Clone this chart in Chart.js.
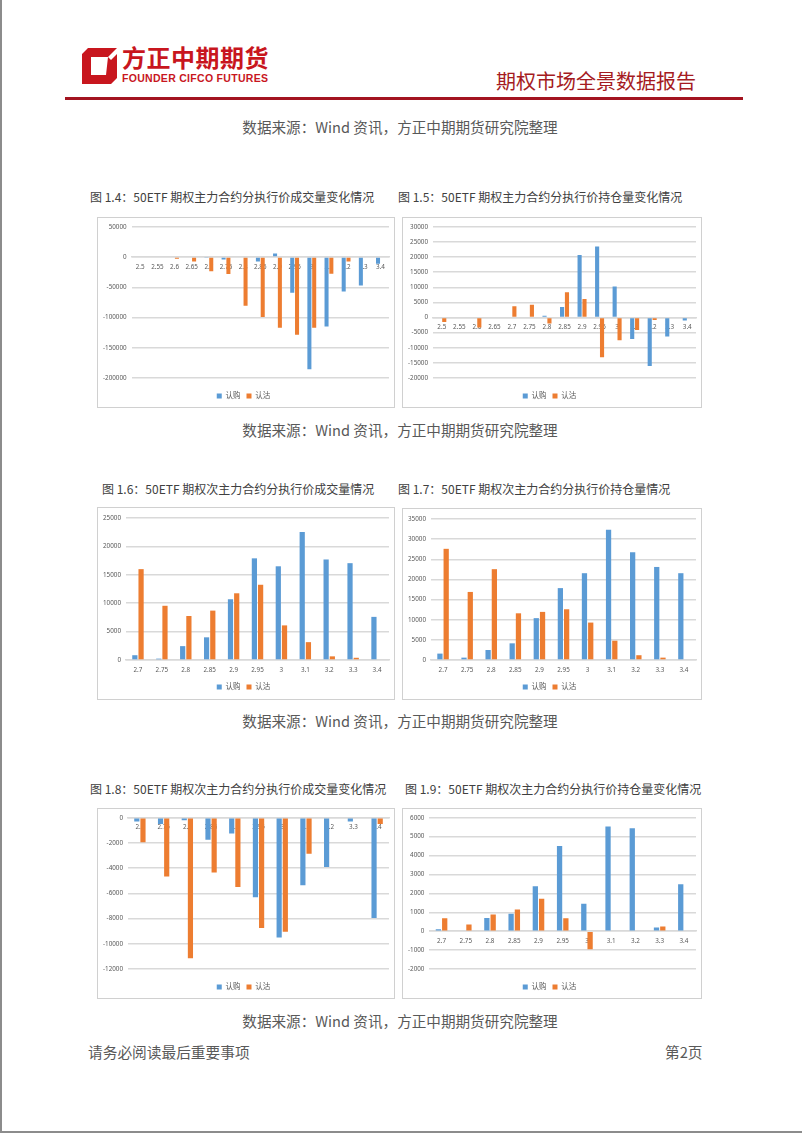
<!DOCTYPE html>
<html>
<head>
<meta charset="utf-8">
<script src="https://cdn.jsdelivr.net/npm/chart.js@4.4.0/dist/chart.umd.min.js"></script>
<style>
  body { margin: 0; background: #fff; }
  .page { position: relative; width: 802px; height: 1133px; overflow: hidden; background: #fff;
          font-family: "Noto Sans CJK SC", "Noto Sans", sans-serif; }
  .edge-l { position: absolute; left: 0; top: 0; width: 2px; height: 1133px; background: #8c8c8c; }
  .edge-b { position: absolute; left: 0; top: 1131px; width: 802px; height: 2px; background: #8c8c8c; }
  .logo { position: absolute; left: 82px; top: 48px; }
  .brand { position: absolute; left: 122px; top: 45px; font-size: 24px; font-weight: 700; color: #c8161e; line-height: 1; letter-spacing: 0.5px; }
  .brand-en { position: absolute; left: 122px; top: 73px; font-family: "Liberation Sans", Arial, sans-serif; font-size: 10.5px; font-weight: 700; color: #c8161e; line-height: 1; letter-spacing: 0.3px; }
  .report { position: absolute; right: 106px; top: 69px; font-size: 20px; color: #a51b22; line-height: 1.2; }
  .redline { position: absolute; left: 65px; top: 97px; width: 678px; height: 3px; background: #a31420; }
  .src { position: absolute; left: 0; width: 800px; text-align: center; font-size: 14.6px; color: #595959; line-height: 18px; }
  .ctitle { position: absolute; font-size: 12px; color: #404040; line-height: 14px; white-space: nowrap; }
  .box { position: absolute; border: 1px solid #d0d0d0; box-sizing: border-box; }
  .foot { position: absolute; top: 1043px; font-size: 14.7px; color: #595959; line-height: 18px; }
</style>
</head>
<body>
<div class="page">
  <div class="edge-l"></div>
  <div class="edge-b"></div>

  <svg class="logo" width="35" height="36" viewBox="0 0 35 36">
    <path d="M0 6 L6 0 L35 0 L35 30 L29 36 L0 36 Z M9 9 L9 27 L24 27 L26 9 Z" fill="#c8161e" fill-rule="evenodd"/>
    <path d="M26 9 L35 0 L35 6 L29 12 Z" fill="#fff"/>
  </svg>
  <div class="brand">方正中期期货</div>
  <div class="brand-en">FOUNDER CIFCO FUTURES</div>
  <div class="report">期权市场全景数据报告</div>
  <div class="redline"></div>

  <div class="src" style="top:118px">数据来源：Wind 资讯，方正中期期货研究院整理</div>

  <div class="ctitle" style="left:90px;top:190px">图 1.4：50ETF 期权主力合约分执行价成交量变化情况</div>
  <div class="ctitle" style="left:398px;top:190px">图 1.5：50ETF 期权主力合约分执行价持仓量变化情况</div>
  <div class="box" style="left:97px;top:217px;width:298px;height:191px"><canvas id="c1"></canvas></div>
  <div class="box" style="left:402px;top:217px;width:300px;height:191px"><canvas id="c2"></canvas></div>

  <div class="src" style="top:421px">数据来源：Wind 资讯，方正中期期货研究院整理</div>

  <div class="ctitle" style="left:102px;top:482px">图 1.6：50ETF 期权次主力合约分执行价成交量情况</div>
  <div class="ctitle" style="left:398px;top:482px">图 1.7：50ETF 期权次主力合约分执行价持仓量情况</div>
  <div class="box" style="left:97px;top:507px;width:298px;height:193px"><canvas id="c3"></canvas></div>
  <div class="box" style="left:402px;top:508px;width:300px;height:192px"><canvas id="c4"></canvas></div>

  <div class="src" style="top:712px">数据来源：Wind 资讯，方正中期期货研究院整理</div>

  <div class="ctitle" style="left:90px;top:782px">图 1.8：50ETF 期权次主力合约分执行价成交量变化情况</div>
  <div class="ctitle" style="left:405px;top:782px">图 1.9：50ETF 期权次主力合约分执行价持仓量变化情况</div>
  <div class="box" style="left:97px;top:808px;width:298px;height:191px"><canvas id="c5"></canvas></div>
  <div class="box" style="left:402px;top:808px;width:300px;height:191px"><canvas id="c6"></canvas></div>

  <div class="src" style="top:1012px">数据来源：Wind 资讯，方正中期期货研究院整理</div>

  <div class="foot" style="left:88px">请务必阅读最后重要事项</div>
  <div class="foot" style="left:665px">第2页</div>
</div>

<script>
// categories (strike prices)
const strikesMain = ['2.5', '2.55', '2.6', '2.65', '2.7', '2.75', '2.8', '2.85', '2.9', '2.95', '3', '3.1', '3.2', '3.3', '3.4'];
const strikesNext = ['2.7', '2.75', '2.8', '2.85', '2.9', '2.95', '3', '3.1', '3.2', '3.3', '3.4'];
const seriesNames = ['认购', '认沽'];

// 图1.4 主力合约 成交量变化
const volChgMainCall = [0, 0, 0, 0, -1500, -4000, 0, -7500, 6000, -59000, -185500, -115000, -57000, -47000, -11000];
const volChgMainPut = [0, 0, -3000, -7500, -23500, -28000, -80500, -99000, -117000, -128500, -117000, -27500, -7500, 0, 0];

// 图1.5 主力合约 持仓量变化
const oiChgMainCall = [0, 0, 0, 0, 0, 0, 600, 3500, 20700, 23500, 10300, -7100, -16000, -6300, -1000];
const oiChgMainPut = [-1500, 0, -3300, 0, 3700, 4200, -2000, 8400, 6100, -13100, -7500, -4100, -800, 0, 0];

// 图1.6 次主力合约 成交量
const volNextCall = [850, 250, 2450, 4000, 10700, 17900, 16500, 22550, 17700, 17050, 7600];
const volNextPut = [16000, 9550, 7750, 8700, 11750, 13250, 6100, 3150, 650, 400, 0];

// 图1.7 次主力合约 持仓量
const oiNextCall = [1600, 600, 2500, 4150, 10400, 17850, 21550, 32350, 26750, 23100, 21550];
const oiNextPut = [27600, 16900, 22550, 11600, 11950, 12600, 9300, 4800, 1200, 600, 0];

// 图1.8 次主力合约 成交量变化
const volChgNextCall = [-300, -500, -200, -1750, -1250, -6300, -9500, -5350, -3900, -300, -7950];
const volChgNextPut = [-1950, -4650, -11150, -4350, -5500, -8750, -9050, -2850, 0, 0, -500];

// 图1.9 次主力合约 持仓量变化
const oiChgNextCall = [100, 0, 700, 930, 2380, 4510, 1450, 5540, 5450, 200, 2480];
const oiChgNextPut = [680, 350, 880, 1150, 1720, 680, -950, 0, 0, 250, 0];

Chart.defaults.font.family = '"Noto Sans", "Noto Sans CJK SC", sans-serif';
Chart.defaults.color = '#595959';

function barChart(id, labels, call, put, yMin, yMax, step, xAtZero) {
  new Chart(document.getElementById(id), {
    type: 'bar',
    data: {
      labels: labels,
      datasets: [
        { label: seriesNames[0], data: call, backgroundColor: '#5b9bd5' },
        { label: seriesNames[1], data: put, backgroundColor: '#ed7d31' }
      ]
    },
    options: {
      responsive: true,
      maintainAspectRatio: false,
      animation: false,
      datasets: { bar: { categoryPercentage: labels.length > 11 ? 0.56 : 0.52, barPercentage: 0.84 } },
      layout: { padding: { top: xAtZero ? 4 : 10, right: 5, bottom: xAtZero ? -2.75 : -1.75, left: 0 } },
      plugins: {
        legend: {
          position: 'bottom',
          // empty title only used as a spacer above the legend items
          title: { display: true, text: ' ', font: { size: 1 }, padding: { top: xAtZero ? 7 : 2, bottom: 0 } },
          labels: { boxWidth: 5, boxHeight: 5, padding: 6, font: { size: 7.5 }, color: '#595959' }
        },
        tooltip: { enabled: false }
      },
      scales: {
        x: {
          position: xAtZero ? { y: 0 } : 'bottom',
          grid: { display: false, drawTicks: false },
          border: { display: true, color: '#d9d9d9', width: 1.5 },
          ticks: { font: { size: 6.3 }, color: '#595959', maxRotation: 0, autoSkip: false, padding: 6 },
          afterFit: s => { if (!xAtZero) s.height = 14; }
        },
        y: {
          min: yMin,
          max: yMax,
          ticks: { stepSize: step, callback: v => String(v), font: { size: 6.3 }, color: '#595959', padding: 5 },
          grid: { color: '#d9d9d9', lineWidth: 1.5, drawTicks: false },
          border: { display: false }
        }
      }
    }
  });
}

barChart('c1', strikesMain, volChgMainCall, volChgMainPut, -200000, 50000, 50000, true);
barChart('c2', strikesMain, oiChgMainCall, oiChgMainPut, -20000, 30000, 5000, true);
barChart('c3', strikesNext, volNextCall, volNextPut, 0, 25000, 5000, false);
barChart('c4', strikesNext, oiNextCall, oiNextPut, 0, 35000, 5000, false);
barChart('c5', strikesNext, volChgNextCall, volChgNextPut, -12000, 0, 2000, true);
barChart('c6', strikesNext, oiChgNextCall, oiChgNextPut, -2000, 6000, 1000, true);
</script>
</body>
</html>
